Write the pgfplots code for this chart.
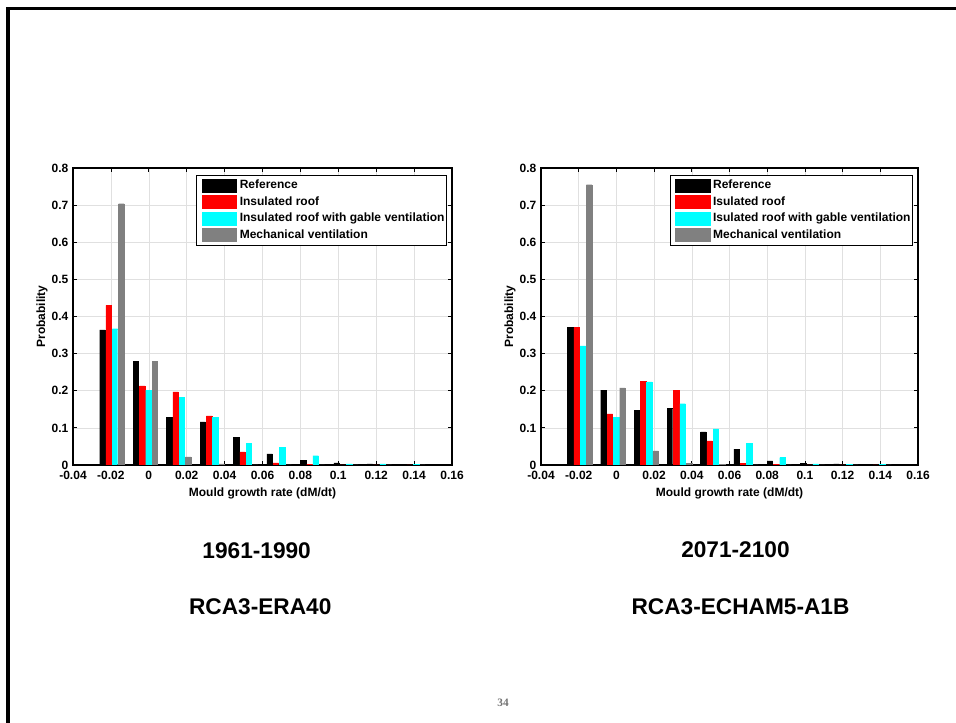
\documentclass[border=0pt]{standalone}
\usepackage{pgfplots}
\usepackage{pgfplotstable}
\pgfplotsset{compat=1.18}
\usepackage{fontspec}
\setmainfont{Liberation Sans}
\newfontfamily\pagefont{Liberation Serif}

% bin centres of the histograms and the four cases
\pgfplotstableread{
x        ref    ins    gab    mech
-0.0195  0.364  0.430  0.367  0.704
-0.00185 0.280  0.213  0.202  0.280
0.0158   0.129  0.197  0.183  0.022
0.03345  0.116  0.132  0.128  0.003
0.0511   0.075  0.035  0.059  0.000
0.06875  0.030  0.006  0.047  0.000
0.0864   0.013  0.002  0.025  0.000
0.10405  0.006  0.000  0.003  0.000
0.1217   0.003  0.000  0.003  0.000
0.13935  0.000  0.000  0.002  0.000
}\histold

\pgfplotstableread{
x        ref    ins    gab    mech
-0.0195  0.370  0.370  0.321  0.755
-0.00185 0.202  0.138  0.128  0.208
0.0158   0.148  0.226  0.224  0.038
0.03345  0.152  0.202  0.165  0.005
0.0511   0.089  0.065  0.097  0.001
0.06875  0.043  0.005  0.059  0.000
0.0864   0.011  0.001  0.020  0.000
0.10405  0.004  0.000  0.003  0.000
0.1217   0.003  0.000  0.002  0.000
0.13935  0.000  0.000  0.002  0.000
}\histnew

\definecolor{mgray}{rgb}{0.5,0.5,0.5}
\definecolor{mcyan}{rgb}{0,1,1}
\definecolor{mred}{rgb}{1,0,0}

\newcommand{\lblfont}{\bfseries\fontsize{9}{10}\selectfont}

\pgfplotsset{
  mybar/.style={ybar, bar width=4.1pt, fill=#1, draw=#1, line width=0.2pt,
    legend image code/.code={\path (0pt,0pt); \fill[#1] (2.5pt,-4.9pt) rectangle (28.5pt,4.9pt);}},
  histaxis/.style={
    anchor=south west, scale only axis,
    height=222.75pt,
    xmin=-0.04, xmax=0.16, ymin=0, ymax=0.8,
    xtick={-0.04,-0.02,0,0.02,0.04,0.06,0.08,0.1,0.12,0.14,0.16},
    xticklabels={-0.04,-0.02,0,0.02,0.04,0.06,0.08,0.1,0.12,0.14,0.16},
    ytick={0,0.1,0.2,0.3,0.4,0.5,0.6,0.7,0.8},
    yticklabels={0,0.1,0.2,0.3,0.4,0.5,0.6,0.7,0.8},
    grid=major,
    major grid style={black!12, line width=0.4pt},
    tick align=inside,
    major tick length=3.2pt,
    tick style={black, line width=0.6pt},
    axis line style={line width=0.9pt},
    ticklabel style={font=\lblfont},
    xticklabel style={yshift=-1pt},
    every axis x label/.style={at={(axis description cs:0.5,0)}, anchor=center,
      yshift=-21.5pt, font=\lblfont},
    every axis y label/.style={at={(axis description cs:-0.082,0.5)}, rotate=90,
      anchor=center, font=\lblfont},
    xlabel={Mould growth rate (dM/dt)},
    ylabel={Probability},
    legend cell align=left,
    legend style={at={(1,1)}, anchor=north east, xshift=-3.75pt, yshift=-5pt,
      draw=black, line width=0.75pt, fill=white,
      font=\lblfont,
      inner xsep=1pt, inner ysep=1.5pt, row sep=0pt,
      nodes={inner xsep=0.5pt, inner ysep=1.2pt, text height=7.5pt, text depth=2.5pt},
      /tikz/every odd column/.append style={column sep=2pt}},
  }
}

\begin{document}
\begin{tikzpicture}
\useasboundingbox (0,0) rectangle (717pt,542.25pt);
\draw[line width=2.4pt] (6pt,0) -- (6pt,536pt) -- (718pt,536pt);

\begin{axis}[histaxis, at={(54.75pt,193.5pt)}, width=284.25pt]
\addplot[mybar=black, bar shift=-7.09pt] table[x=x, y=ref] {\histold};
\addplot[mybar=mred, bar shift=-2.36pt] table[x=x, y=ins] {\histold};
\addplot[mybar=mcyan, bar shift=2.36pt] table[x=x, y=gab] {\histold};
\addplot[mybar=mgray, bar shift=7.09pt] table[x=x, y=mech] {\histold};
\legend{Reference, Insulated roof, Insulated roof with gable ventilation, Mechanical ventilation}
\end{axis}

\begin{axis}[histaxis, at={(405.75pt,193.5pt)}, width=282.75pt]
\addplot[mybar=black, bar shift=-7.09pt] table[x=x, y=ref] {\histnew};
\addplot[mybar=mred, bar shift=-2.36pt] table[x=x, y=ins] {\histnew};
\addplot[mybar=mcyan, bar shift=2.36pt] table[x=x, y=gab] {\histnew};
\addplot[mybar=mgray, bar shift=7.09pt] table[x=x, y=mech] {\histnew};
\legend{Reference, Isulated roof, Isulated roof with gable ventilation, Mechanical ventilation}
\end{axis}

\node[font=\bfseries\fontsize{17}{20}\selectfont] at (192.5pt,129.4pt) {1961-1990};
\node[font=\bfseries\fontsize{17}{20}\selectfont] at (195.2pt,87pt) {RCA3-ERA40};
\node[font=\bfseries\fontsize{17}{20}\selectfont] at (551.6pt,129.7pt) {2071-2100};
\node[font=\bfseries\fontsize{17}{20}\selectfont] at (555.4pt,87pt) {RCA3-ECHAM5-A1B};
\node[font=\pagefont\bfseries\fontsize{8.5}{10}\selectfont, text=black!55] at (377.25pt,15pt) {34};
\end{tikzpicture}
\end{document}
